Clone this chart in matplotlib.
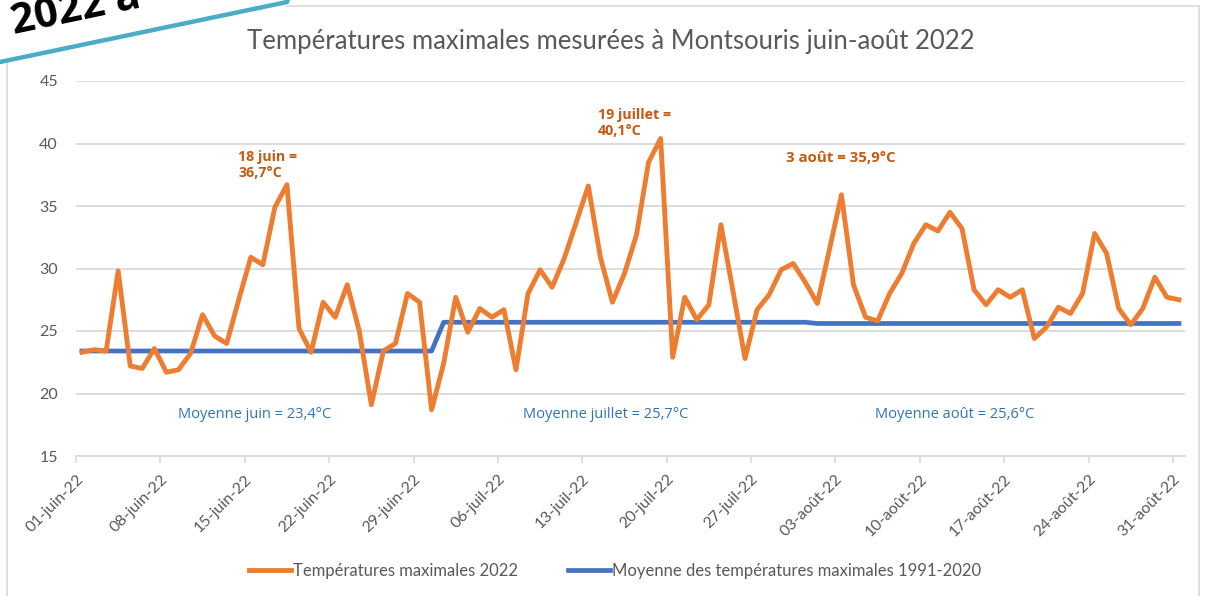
import matplotlib
matplotlib.use("Agg")
import matplotlib.pyplot as plt
from matplotlib.lines import Line2D
from matplotlib.patches import Polygon
from matplotlib.transforms import ScaledTranslation

# ---------------- data ----------------
tick_labels = ["01-juin-22", "08-juin-22", "15-juin-22", "22-juin-22", "29-juin-22",
               "06-juil-22", "13-juil-22", "20-juil-22", "27-juil-22", "03-août-22",
               "10-août-22", "17-août-22", "24-août-22", "31-août-22"]
tick_days = [0, 7, 14, 21, 28, 35, 42, 49, 56, 63, 70, 77, 84, 91]

tmax_2022 = [23.3, 23.5, 23.4, 29.8, 22.2, 22.0, 23.6, 21.7, 21.9, 23.2,
             26.3, 24.6, 24.0, 27.5, 30.9, 30.3, 34.9, 36.7, 25.2, 23.3,
             27.3, 26.1, 28.7, 25.0, 19.1, 23.4, 24.0, 28.0, 27.3, 18.7,
             22.4, 27.7, 24.9, 26.8, 26.1, 26.7, 21.9, 28.0, 29.9, 28.5,
             30.8, 33.7, 36.6, 30.9, 27.3, 29.6, 32.7, 38.5, 40.4, 22.9,
             27.7, 25.9, 27.1, 33.5, 28.2, 22.8, 26.7, 27.9, 29.9, 30.4,
             28.9, 27.2, 31.5, 35.9, 28.7, 26.1, 25.8, 28.0, 29.6, 32.0,
             33.5, 33.0, 34.5, 33.2, 28.3, 27.1, 28.3, 27.7, 28.3, 24.4,
             25.3, 26.9, 26.4, 28.0, 32.8, 31.2, 26.8, 25.5, 26.8, 29.3,
             27.7, 27.5]

month_days = [30, 31, 31]
month_means = [23.4, 25.7, 25.6]

normal_series = []
for n, m in zip(month_days, month_means):
    normal_series += [m] * n

days = [i + 0.5 for i in range(len(tmax_2022))]

# ---------------- figure ----------------
W, H = 1205, 596
fig = plt.figure(figsize=(W / 100, H / 100), dpi=100)
fig.patch.set_facecolor("white")


def fx(x):
    return x / W


def fy(y):
    return 1 - y / H


GREY_TXT = "#595959"
GRID = "#d9d9d9"
ORANGE = "#ED7D31"
BLUE = "#4472C4"
ANNOT = "#C55A11"
BLUE_TXT = "#2E75B6"

ax = fig.add_axes([fx(76), fy(456), fx(1185) - fx(76), fy(81) - fy(456)])
ax.set_xlim(0, 92)
ax.set_ylim(15, 45)

for s in ["top", "right", "left"]:
    ax.spines[s].set_visible(False)
ax.spines["bottom"].set_color(GRID)
ax.spines["bottom"].set_linewidth(1.3)

ax.set_yticks([15, 20, 25, 30, 35, 40, 45])
ax.yaxis.grid(True, color=GRID, linewidth=1.3)
ax.set_axisbelow(True)
ax.tick_params(axis="y", length=0, pad=13, labelsize=11.5, labelcolor=GREY_TXT)
for lab in ax.get_yticklabels():
    lab.set_fontfamily("Lato")

ax.set_xticks(tick_days)
ax.set_xticklabels(tick_labels, rotation=45, ha="right", va="center",
                   rotation_mode="anchor", fontfamily="Lato")
ax.tick_params(axis="x", length=5, width=1.2, color=GRID, pad=10,
               labelsize=11.5, labelcolor=GREY_TXT)
offset = ScaledTranslation(5 / 100, 0, fig.dpi_scale_trans)
for lab in ax.get_xticklabels():
    lab.set_transform(lab.get_transform() + offset)

ax.plot(days, tmax_2022, color=ORANGE, linewidth=3.5, solid_joinstyle="round",
        label="Températures maximales 2022", zorder=3)
ax.plot(days, normal_series, color=BLUE, linewidth=3.4, solid_joinstyle="round",
        label="Moyenne des températures maximales 1991-2020", zorder=2)

# annotations
afont = dict(fontfamily="Open Sans", fontweight="bold", fontsize=10.3, color=ANNOT)
ax.text(13.45, 39.5, "18 juin =\n36,7°C", ha="left", va="top", linespacing=1.2, **afont)
ax.text(43.3, 42.85, "19 juillet =\n40,1°C", ha="left", va="top", linespacing=1.2, **afont)
ax.text(58.9, 38.85, "3 août = 35,9°C", ha="left", va="center",
        fontfamily="Open Sans", fontweight="bold", fontsize=10.8, color=ANNOT)

bfont = dict(fontfamily="Open Sans", fontsize=10.5, color=BLUE_TXT)
ax.text(8.45, 18.3, "Moyenne juin = 23,4°C", ha="left", va="center", **bfont)
ax.text(37.05, 18.3, "Moyenne juillet = 25,7°C", ha="left", va="center", **bfont)
ax.text(66.3, 18.3, "Moyenne août = 25,6°C", ha="left", va="center", **bfont)

# title
fig.text(fx(611), fy(42), "Températures maximales mesurées à Montsouris juin-août 2022",
         ha="center", va="center", fontsize=18.5, color=GREY_TXT, fontfamily="Lato")

# legend
leg = fig.legend(handles=ax.get_lines(), loc="center", bbox_to_anchor=(fx(615), fy(571)),
                 ncol=2, frameon=False, handlelength=2.5, handletextpad=0.12,
                 columnspacing=3.0, prop={"family": "Lato", "size": 12})
for t in leg.get_texts():
    t.set_color(GREY_TXT)

# chart border
fig.add_artist(Line2D([fx(7), fx(7)], [fy(62), fy(620)], color=GRID, linewidth=1.2,
                      transform=fig.transFigure))
fig.add_artist(Line2D([fx(287), fx(1199)], [fy(6), fy(6)], color=GRID, linewidth=1.2,
                      transform=fig.transFigure))
fig.add_artist(Line2D([fx(1199), fx(1199)], [fy(6), fy(620)], color=GRID, linewidth=1.2,
                      transform=fig.transFigure))

# banner
fig.add_artist(Polygon([(fx(0), fy(-5)), (fx(0), fy(62)), (fx(287), fy(2)), (fx(290), fy(-5))],
                       closed=True, facecolor="white", edgecolor="none",
                       transform=fig.transFigure, zorder=5))
fig.add_artist(Line2D([fx(0), fx(287), fx(290)], [fy(62), fy(2), fy(-6)], color="#4BACC6",
                      linewidth=3.2, transform=fig.transFigure, zorder=6))
fig.text(fx(14), fy(34), "2022 à", rotation=11.8, rotation_mode="anchor", ha="left",
         va="baseline", fontsize=30, fontweight="bold", color="black",
         fontfamily="Open Sans", zorder=7)

fig.savefig("out.png", dpi=100, facecolor="white")
